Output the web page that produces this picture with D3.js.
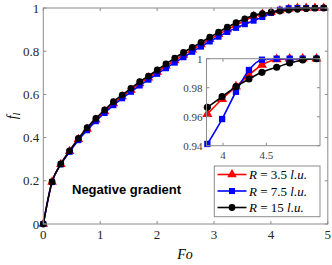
<!DOCTYPE html>
<html>
<head>
<meta charset="utf-8">
<script src="https://cdn.jsdelivr.net/npm/d3@7"></script>
<style>
body { margin: 0; background: #fff; }
text { font-family: "Liberation Serif", "DejaVu Serif", serif; }
</style>
</head>
<body>
<div id="chart"></div>
<script>
// main series, Fo sampled every ~0.154
var fo = d3.range(33).map(function(k) { return k * 0.154; });
var fR35 = [0, 0.195, 0.277, 0.337, 0.392, 0.440, 0.483, 0.521, 0.558, 0.590, 0.620, 0.650, 0.677, 0.704, 0.731, 0.757, 0.783, 0.807, 0.831, 0.855, 0.878, 0.900, 0.921, 0.941, 0.9618, 0.9722, 0.9808, 0.9888, 0.9957, 0.9995, 1.0, 1.0, 1.0];
var fR75 = [0, 0.195, 0.276, 0.334, 0.388, 0.434, 0.476, 0.514, 0.550, 0.582, 0.612, 0.641, 0.668, 0.695, 0.721, 0.747, 0.772, 0.797, 0.821, 0.845, 0.867, 0.889, 0.908, 0.925, 0.9412, 0.9584, 0.9772, 0.9922, 0.9993, 1.0, 1.0, 1.0, 1.0];
var fR15 = [0, 0.195, 0.278, 0.339, 0.396, 0.446, 0.489, 0.528, 0.566, 0.597, 0.628, 0.659, 0.685, 0.713, 0.741, 0.768, 0.794, 0.818, 0.841, 0.865, 0.888, 0.911, 0.932, 0.950, 0.9665, 0.9738, 0.9807, 0.986, 0.9906, 0.9941, 0.997, 0.9991, 1.0];

// inset (zoom on the tail)
var insetFo = [3.82, 3.99, 4.15, 4.30, 4.45, 4.62, 4.77, 4.92, 5.08];
var insR35 = [0.9618, 0.9722, 0.9808, 0.9888, 0.9957, 0.9995, 1.0, 1.0, 1.0];
var insR75 = [0.9412, 0.9584, 0.9772, 0.9922, 0.9993, 1.0, 1.0, 1.0, 1.0];
var insR15 = [0.9665, 0.9738, 0.9807, 0.986, 0.9906, 0.9941, 0.997, 0.9991, 1.0];

var xTicks = [0, 1, 2, 3, 4, 5];
var yTicks = [0, 0.2, 0.4, 0.6, 0.8, 1];
var insXTicks = [4, 4.5];
var insYTicks = [0.94, 0.96, 0.98, 1];

var series = [
    {name: "3.5", color: "#ff0000", marker: "triangle", main: fR35, inset: insR35},
    {name: "7.5", color: "#0000ff", marker: "square", main: fR75, inset: insR75},
    {name: "15", color: "#000000", marker: "circle", main: fR15, inset: insR15}
];

var width = 332, height = 265;
var axisColor = "#8c8c8c";

var svg = d3.select("#chart")
    .append("svg")
    .attr("width", width)
    .attr("height", height);

var x = d3.scaleLinear().domain([0, 5]).range([43.3, 327.8]);
var y = d3.scaleLinear().domain([0, 1]).range([224, 8]);

function symbolFor(m, size) {
    if (m == "triangle") return d3.symbol().type(d3.symbolTriangle).size(size * 1.1)();
    if (m == "square") return d3.symbol().type(d3.symbolSquare).size(size)();
    return d3.symbol().type(d3.symbolCircle).size(size)();
}

// draw a boxed axes with inside ticks on all sides
function drawBox(g, sx, sy, xt, yt, tickLen, fontSize, xFmt, yFmt, labelColor) {
    var x0 = sx.range()[0], x1 = sx.range()[1];
    var y0 = sy.range()[0], y1 = sy.range()[1];
    g.append("rect")
        .attr("x", x0).attr("y", y1)
        .attr("width", x1 - x0).attr("height", y0 - y1)
        .attr("fill", "none")
        .attr("stroke", axisColor)
        .attr("stroke-width", 1);
    xt.forEach(function(t) {
        var px = sx(t);
        g.append("line").attr("x1", px).attr("x2", px).attr("y1", y0).attr("y2", y0 - tickLen)
            .attr("stroke", axisColor);
        g.append("line").attr("x1", px).attr("x2", px).attr("y1", y1).attr("y2", y1 + tickLen)
            .attr("stroke", axisColor);
        g.append("text").attr("x", px).attr("y", y0 + fontSize + 2)
            .attr("text-anchor", "middle")
            .attr("font-size", fontSize)
            .attr("fill", labelColor)
            .text(xFmt(t));
    });
    yt.forEach(function(t) {
        var py = sy(t);
        g.append("line").attr("x1", x0).attr("x2", x0 + tickLen).attr("y1", py).attr("y2", py)
            .attr("stroke", axisColor);
        g.append("line").attr("x1", x1).attr("x2", x1 - tickLen).attr("y1", py).attr("y2", py)
            .attr("stroke", axisColor);
        g.append("text").attr("x", x0 - 4).attr("y", py + fontSize * 0.35)
            .attr("text-anchor", "end")
            .attr("font-size", fontSize)
            .attr("fill", labelColor)
            .text(yFmt(t));
    });
}

function drawSeries(g, sx, sy, xs, s, vals, msize) {
    var pts = xs.map(function(v, i) { return [v, vals[i]]; });
    var line = d3.line()
        .x(function(d) { return sx(d[0]); })
        .y(function(d) { return sy(d[1]); })
        .curve(d3.curveMonotoneX);
    g.append("path")
        .attr("d", line(pts))
        .attr("fill", "none")
        .attr("stroke", s.color)
        .attr("stroke-width", 1.6);
    g.selectAll(null)
        .data(pts)
        .enter()
        .append("path")
        .attr("transform", function(d) { return "translate(" + sx(d[0]) + "," + sy(d[1]) + ")"; })
        .attr("d", symbolFor(s.marker, msize))
        .attr("fill", s.color);
}

// main axes
var gMain = svg.append("g");
series.forEach(function(s) { drawSeries(gMain, x, y, fo, s, s.main, 36); });
drawBox(gMain, x, y, xTicks, yTicks, 3, 13, d3.format("d"), function(t) { return t == 0 || t == 1 ? t : d3.format(".1f")(t); }, "#262626");

svg.append("text")
    .attr("x", 185).attr("y", 259)
    .attr("text-anchor", "middle")
    .attr("font-size", 14)
    .attr("font-style", "italic")
    .text("Fo");

var ylab = svg.append("text")
    .attr("transform", "translate(17,116) rotate(-90)")
    .attr("text-anchor", "middle")
    .attr("font-size", 14)
    .attr("font-style", "italic");
ylab.append("tspan").text("f");
ylab.append("tspan").attr("font-size", 10).attr("dy", 3).text("l");

svg.append("text")
    .attr("x", 72).attr("y", 194)
    .style("font-family", "'Liberation Sans', Arial, sans-serif")
    .attr("font-weight", "bold")
    .attr("font-size", 13)
    .text("Negative gradient");

// inset
var ix = d3.scaleLinear().domain([3.81, 5.12]).range([206.5, 320]);
var iy = d3.scaleLinear().domain([0.94, 1]).range([145.7, 58.7]);
var gInset = svg.append("g");
gInset.append("rect")
    .attr("x", 206.5).attr("y", 58.7)
    .attr("width", 320 - 206.5).attr("height", 145.7 - 58.7)
    .attr("fill", "#fff");
series.forEach(function(s) { drawSeries(gInset, ix, iy, insetFo, s, s.inset, 40); });
drawBox(gInset, ix, iy, insXTicks, insYTicks, 3, 11, function(t) { return t; }, function(t) { return t == 1 ? "1" : d3.format(".2f")(t); }, "#404040");

// legend
var gLeg = svg.append("g");
gLeg.append("rect")
    .attr("x", 214.3).attr("y", 166)
    .attr("width", 105.7).attr("height", 50.7)
    .attr("fill", "#fff")
    .attr("stroke", axisColor);
series.forEach(function(s, i) {
    var ly = 174.5 + i * 16.5;
    gLeg.append("line")
        .attr("x1", 217.5).attr("x2", 246.5)
        .attr("y1", ly).attr("y2", ly)
        .attr("stroke", s.color)
        .attr("stroke-width", 1.6);
    gLeg.append("path")
        .attr("transform", "translate(232," + ly + ")")
        .attr("d", symbolFor(s.marker, 36))
        .attr("fill", s.color);
    var t = gLeg.append("text")
        .attr("x", 249).attr("y", ly + 4.5)
        .attr("font-size", 13);
    t.append("tspan").attr("font-style", "italic").text("R");
    t.append("tspan").text(" = " + s.name + " ");
    t.append("tspan").attr("font-style", "italic").text("l.u.");
});
</script>
</body>
</html>
